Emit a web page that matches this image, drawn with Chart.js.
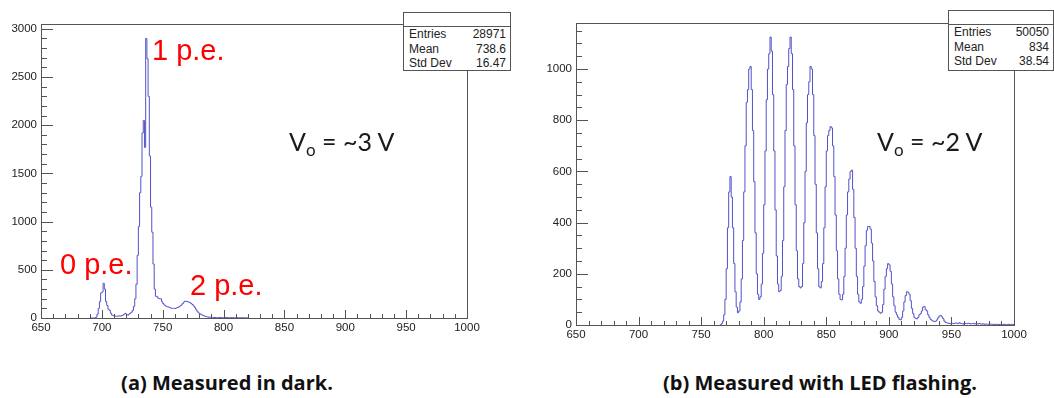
<!DOCTYPE html>
<html>
<head>
<meta charset="utf-8">
<script src="https://cdn.jsdelivr.net/npm/chart.js@4"></script>
<style>
  body { margin: 0; background: #fff; }
  #page { position: relative; width: 1054px; height: 398px; overflow: hidden; background: #fff; }
  canvas { position: absolute; top: 0; }
  .lbl { position: absolute; white-space: nowrap; }
  .pe { color: #ff0000; font-family: 'Liberation Sans', Arial, sans-serif; font-size: 29px; line-height: 1; }
  .vo { color: #1a1a1a; font-family: Lato, 'Open Sans', sans-serif; font-size: 25px; line-height: 1; }
  .vo sub { font-size: 17px; vertical-align: -5px; }
  .cap { color: #111; font-family: 'Open Sans', sans-serif; font-weight: 700; font-size: 20px; line-height: 1; transform: translateX(-50%); }
  .stats { position: absolute; background: #fff; border: 1px solid #555; font-family: 'Liberation Sans', Arial, sans-serif; font-size: 12px; color: #222; box-sizing: border-box; }
  .stats .ttl { height: 13px; border-bottom: 1px solid #555; }
  .stats .row { display: flex; justify-content: space-between; height: 14.5px; line-height: 14.5px; padding: 0 4px 0 5px; }
</style>
</head>
<body>
<div id="page">
  <canvas id="darkChart" width="527" height="345" style="left:0"></canvas>
  <canvas id="ledChart" width="527" height="345" style="left:527px"></canvas>

  <div class="stats" style="left:403px; top:12px; width:108px; height:59px;">
    <div class="ttl"></div>
    <div class="row"><span>Entries</span><span>28971</span></div>
    <div class="row"><span>Mean</span><span>738.6</span></div>
    <div class="row"><span>Std Dev</span><span>16.47</span></div>
  </div>
  <div class="stats" style="left:948px; top:10px; width:106px; height:61px;">
    <div class="ttl" style="height:13px"></div>
    <div class="row"><span>Entries</span><span>50050</span></div>
    <div class="row"><span>Mean</span><span>834</span></div>
    <div class="row"><span>Std Dev</span><span>38.54</span></div>
  </div>

  <div class="lbl pe" style="left:152px; top:36px;">1 p.e.</div>
  <div class="lbl pe" style="left:60px; top:250px;">0 p.e.</div>
  <div class="lbl pe" style="left:190px; top:271px;">2 p.e.</div>

  <div class="lbl vo" style="left:289px; top:129px;">V<sub>o</sub> = ~3 V</div>
  <div class="lbl vo" style="left:877px; top:129px;">V<sub>o</sub> = ~2 V</div>

  <div class="lbl cap" style="left:227px; top:373px;">(a) Measured in dark.</div>
  <div class="lbl cap" style="left:820px; top:373px;">(b) Measured with LED flashing.</div>
</div>

<script>
// Histogram contents, 1-unit bins, first bin low edge given separately
const darkFirstBin = 690;
const darkCounts = [
    0, 0, 0, 0, 0, 10, 40, 100, 170, 260,          // 690-699
    270, 360, 300, 170, 130, 90, 80, 50, 30, 25,    // 700-709
    20, 20, 18, 20, 22, 20, 25, 30, 40, 48,         // 710-719
    35, 30, 40, 50, 60, 80, 120, 200, 350, 650,     // 720-729
    950, 1300, 1470, 1920, 2050, 1770, 2900, 2690, 2300, 1680, // 730-739
    1150, 890, 560, 300, 225, 220, 205, 200, 200, 170,         // 740-749
    150, 135, 125, 118, 115, 110, 105, 100, 100, 100,          // 750-759
    100, 105, 110, 115, 125, 135, 150, 165, 175, 172,          // 760-769
    170, 165, 160, 150, 140, 125, 110, 90, 70, 55,             // 770-779
    45, 38, 30, 25, 20, 15, 12, 10, 8, 8,                      // 780-789
    6, 6, 5, 5, 5, 4, 5, 5, 4, 4,                              // 790-799
    5, 4, 4, 5, 4, 3, 4, 4, 3, 3,                              // 800-809
    4, 3, 3, 4, 3, 3, 2, 3, 2, 2,                              // 810-819
    0
];

const ledFirstBin = 765;
const ledCounts = [
    0, 5, 15, 40, 100,                                         // 765-769
    220, 380, 520, 580, 500, 380, 240, 130, 70, 48,            // 770-779
    55, 90, 180, 330, 520, 700, 870, 920, 1000, 1010,          // 780-789
    920, 760, 560, 360, 200, 120, 100, 110, 160, 280,          // 790-799
    470, 680, 880, 1000, 1060, 1125, 1070, 900, 680, 450,      // 800-809
    270, 160, 130, 135, 190, 330, 540, 760, 940, 1010,         // 810-819
    1080, 1125, 1060, 920, 700, 470, 290, 180, 150, 145,       // 820-829
    150, 240, 400, 600, 790, 900, 950, 1010, 1000, 900,        // 830-839
    740, 550, 360, 220, 150, 145, 170, 240, 380, 540,          // 840-849
    680, 740, 760, 775, 770, 700, 580, 430, 290, 180,          // 850-859
    120, 100, 98, 120, 190, 300, 430, 520, 570, 600,           // 860-869
    605, 530, 420, 300, 190, 120, 90, 85, 100, 150,            // 870-879
    230, 310, 370, 385, 385, 375, 320, 250, 170, 110,          // 880-889
    75, 55, 50, 46, 50, 80, 140, 190, 220, 240,                // 890-899
    235, 210, 160, 110, 75, 50, 40, 30, 22, 20,                // 900-909
    30, 55, 90, 115, 130, 128, 120, 95, 65, 45,                // 910-919
    30, 25, 24, 30, 40, 45, 55, 70, 72, 60,                    // 920-929
    55, 40, 30, 22, 18, 15, 13, 15, 20, 28,                    // 930-939
    35, 37, 32, 25, 15, 10, 8, 7, 6, 5,                        // 940-949
    6, 5, 6, 8, 7, 5, 9, 6, 5, 4,                              // 950-959
    8, 6, 5, 7, 6, 4, 5, 6, 4, 5,                              // 960-969
    5, 4, 6, 4, 3, 5, 3, 4, 3, 3,                              // 970-979
    4, 3, 3, 2, 3, 2, 3, 2, 2, 3,                              // 980-989
    2, 2, 3, 2, 2, 3, 2, 2, 3, 2                               // 990-999
];

const xTicks = [650, 700, 750, 800, 850, 900, 950, 1000];
const darkYTicks = [0, 500, 1000, 1500, 2000, 2500, 3000];
const ledYTicks = [0, 200, 400, 600, 800, 1000];

// turn bin contents into step points (low edge of every bin + closing point)
const toSteps = (first, counts) => {
    const pts = counts.map((c, i) => ({ x: first + i, y: c }));
    pts.push({ x: first + counts.length, y: 0 });
    return pts;
};

const tickFont = { family: 'Liberation Sans', size: 11.5 };
const frameColor = '#555';
const lineColor = '#5252c8';

// ROOT style frame with inward major/minor ticks
const rootFrame = {
    id: 'rootFrame',
    afterDraw(chart, args, opts) {
        const { ctx, chartArea: a, scales: { x, y } } = chart;
        ctx.save();
        ctx.strokeStyle = frameColor;
        ctx.lineWidth = 1;
        ctx.strokeRect(Math.round(a.left) + 0.5, Math.round(a.top) + 0.5,
            Math.round(a.right - a.left), Math.round(a.bottom - a.top));
        ctx.beginPath();
        for (let v = x.min; v <= x.max + 0.01; v += opts.xMinor) {
            const px = Math.round(x.getPixelForValue(v)) + 0.5;
            const major = Math.abs(v % opts.xMajor) < 0.01;
            ctx.moveTo(px, a.bottom);
            ctx.lineTo(px, a.bottom - (major ? 8 : 4));
        }
        for (let v = 0; v <= y.max + 0.01; v += opts.yMinor) {
            const py = Math.round(y.getPixelForValue(v)) + 0.5;
            const major = Math.abs(v % opts.yMajor) < 0.01;
            ctx.moveTo(a.left, py);
            ctx.lineTo(a.left + (major ? 12 : 6), py);
        }
        ctx.stroke();
        ctx.restore();
    }
};

const makeHist = (id, first, counts, yMax, yTicks, yMinor, pad, xAxisH) => new Chart(document.getElementById(id), {
    type: 'line',
    data: {
        datasets: [{
            data: toSteps(first, counts),
            stepped: true,
            borderColor: lineColor,
            borderWidth: 1,
            pointRadius: 0,
            fill: false,
        }],
    },
    options: {
        responsive: false,
        animation: false,
        layout: { padding: pad },
        plugins: {
            legend: { display: false },
            tooltip: { enabled: false },
            rootFrame: { xMajor: 50, xMinor: 10, yMajor: yTicks[1], yMinor: yMinor },
        },
        scales: {
            x: {
                type: 'linear', min: 650, max: 1000,
                afterBuildTicks: s => { s.ticks = xTicks.map(v => ({ value: v })); },
                afterFit: s => { s.height = xAxisH; },
                ticks: { font: tickFont, color: '#222', padding: 3, maxRotation: 0, autoSkip: false, callback: v => String(v) },
                grid: { display: false, drawTicks: false },
                border: { display: false },
            },
            y: {
                min: 0, max: yMax,
                afterBuildTicks: s => { s.ticks = yTicks.map(v => ({ value: v })); },
                afterFit: s => { s.width = pad.yw; },
                ticks: { font: tickFont, color: '#222', padding: 4, autoSkip: false, callback: v => String(v) },
                grid: { display: false, drawTicks: false },
                border: { display: false },
            },
        },
    },
    plugins: [rootFrame],
});

makeHist('darkChart', darkFirstBin, darkCounts, 3050, darkYTicks, 100,
    { top: 24, right: 60, left: 0, bottom: 0, yw: 41 }, 27);
makeHist('ledChart', ledFirstBin, ledCounts, 1180, ledYTicks, 50,
    { top: 23, right: 40, left: 0, bottom: 0, yw: 49 }, 20);
</script>
</body>
</html>
